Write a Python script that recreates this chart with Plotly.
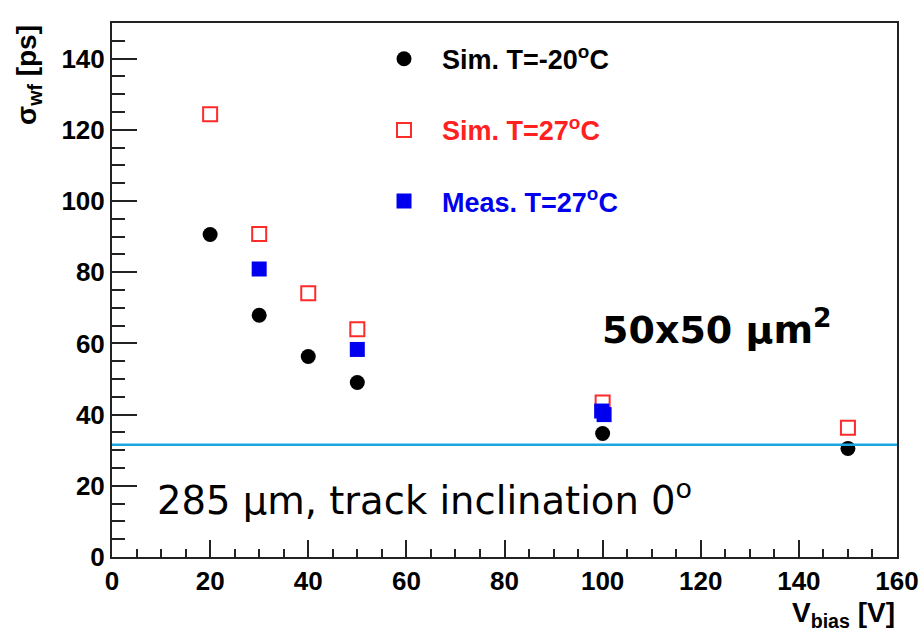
import plotly.graph_objects as go

# data
sim_cold_x = [20, 30, 40, 50, 100, 150]
sim_cold_y = [90.6, 67.9, 56.3, 49.0, 34.7, 30.5]
sim_warm_x = [20, 30, 40, 50, 100, 150]
sim_warm_y = [124.4, 90.7, 74.1, 64.0, 43.4, 36.3]
meas_x = [30, 50, 99.8, 100.3]
meas_y = [80.9, 58.3, 41.0, 40.0]
ref_level = 31.5
x_range = [0, 160]
y_range = [0, 150]

FONT = "Liberation Sans"

fig = go.Figure()
fig.add_trace(go.Scatter(
    x=sim_cold_x, y=sim_cold_y, mode="markers",
    name="<b>Sim. T=-20<sup>o</sup>C</b>", legendgroup="a",
    marker=dict(symbol="circle", size=15, color="black"),
))
fig.add_trace(go.Scatter(
    x=sim_warm_x, y=sim_warm_y, mode="markers",
    name="<b><span style='color:#ff2020'>Sim. T=27<sup>o</sup>C</span></b>", legendgroup="b",
    marker=dict(symbol="square-open", size=14, color="#ff2a2a", line=dict(width=2, color="#ff2a2a")),
))
fig.add_trace(go.Scatter(
    x=meas_x, y=meas_y, mode="markers",
    name="<b><span style='color:#0000ee'>Meas. T=27<sup>o</sup>C</span></b>", legendgroup="c",
    marker=dict(symbol="square", size=15, color="#0000ee"),
))

fig.add_shape(type="line", xref="x", yref="y", x0=x_range[0], x1=x_range[1],
              y0=ref_level, y1=ref_level, line=dict(color="#1aa7e0", width=2.5))

axis_common = dict(
    showline=True, linecolor="#222", linewidth=2, mirror=True, automargin=False,
    showgrid=False, zeroline=False, ticks="inside", tickcolor="#222", tickwidth=2,
    tickfont=dict(family=FONT, size=26, color="black", weight="bold"),
)
fig.update_xaxes(range=x_range, dtick=20, ticklen=17,
                 minor=dict(ticks="inside", dtick=5, ticklen=8, tickcolor="#222", tickwidth=2),
                 **axis_common)
fig.update_yaxes(range=y_range, dtick=20, ticklen=25,
                 minor=dict(ticks="inside", dtick=5, ticklen=13, tickcolor="#222", tickwidth=2),
                 **axis_common)

fig.add_annotation(xref="paper", yref="paper", x=-0.107, y=1.0, xanchor="center", yanchor="top",
                   text="<b>σ<sub>wf</sub> [ps]</b>", textangle=-90, showarrow=False,
                   font=dict(family=FONT, size=28, color="black"))
fig.add_annotation(xref="paper", yref="paper", x=1.0, y=-0.072, xanchor="right", yanchor="top",
                   text="<b>V<sub>bias</sub> [V]</b>", showarrow=False,
                   font=dict(family=FONT, size=28, color="black"))
fig.add_annotation(xref="paper", yref="paper", x=0.771, y=0.43, xanchor="center", yanchor="middle",
                   text="<b>50x50 μm<sup>2</sup></b>", showarrow=False,
                   font=dict(family="DejaVu Sans", size=38, color="black"))
fig.add_annotation(xref="paper", yref="paper", x=0.055, y=0.11, xanchor="left", yanchor="middle",
                   text="285 μm, track inclination 0<sup>o</sup>", showarrow=False,
                   font=dict(family="DejaVu Sans", size=38.5, color="black"))

fig.update_layout(
    width=920, height=631,
    margin=dict(l=112, r=23, t=23, b=74),
    paper_bgcolor="white", plot_bgcolor="white",
    showlegend=True,
    legend=dict(x=0.3236, y=0.978, xanchor="left", yanchor="top",
                bgcolor="rgba(0,0,0,0)", tracegroupgap=33, traceorder="grouped",
                font=dict(family=FONT, size=27, color="black"), itemwidth=66),
)

fig.write_html("out.html")
